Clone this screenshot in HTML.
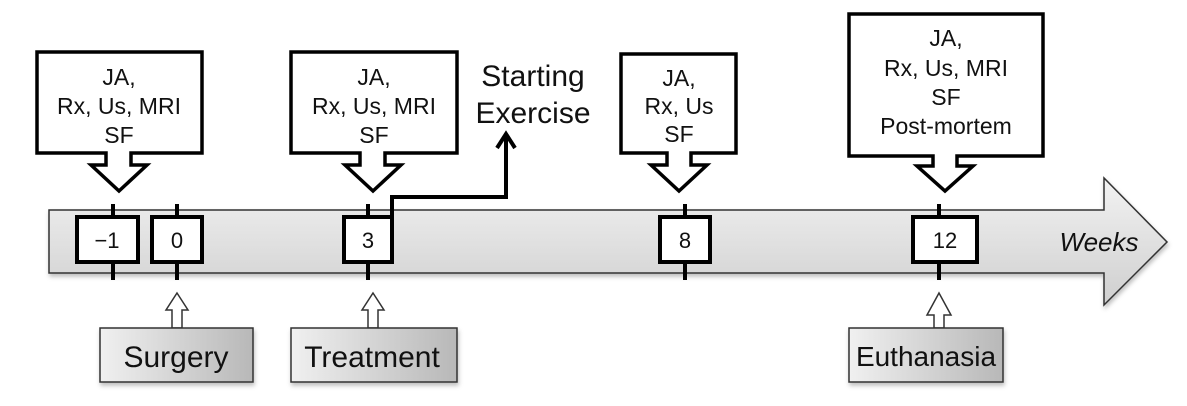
<!DOCTYPE html>
<html><head><meta charset="utf-8"><style>
html,body{margin:0;padding:0;background:#fff;}
svg{display:block;}
text{font-family:"Liberation Sans",Arial,sans-serif;fill:#111;}
</style></head><body>
<svg width="1187" height="406" viewBox="0 0 1187 406" xmlns="http://www.w3.org/2000/svg">
<defs>
<linearGradient id="bar" x1="0" y1="0" x2="0" y2="1">
<stop offset="0" stop-color="#f2f2f2"/><stop offset="1" stop-color="#cfcfcf"/>
</linearGradient>
<linearGradient id="lab" x1="0" y1="0" x2="1" y2="0">
<stop offset="0" stop-color="#f0f0f0"/><stop offset="1" stop-color="#b8b8b8"/>
</linearGradient>
<filter id="sh" x="-5%" y="-5%" width="115%" height="125%">
<feDropShadow dx="1" dy="3" stdDeviation="2" flood-color="#000" flood-opacity="0.25"/>
</filter>
</defs>

<polygon points="49,210 1104,210 1104,178 1167,242 1104,305 1104,273 49,273" fill="url(#bar)" stroke="#333" stroke-width="1.5" filter="url(#sh)"/>
<text x="1099" y="251" font-size="26" font-style="italic" text-anchor="middle">Weeks</text>

<g stroke="#000" stroke-width="4">
<line x1="113" y1="204" x2="113" y2="280"/>
<line x1="177" y1="204" x2="177" y2="280"/>
<line x1="368" y1="204" x2="368" y2="280"/>
<line x1="685" y1="204" x2="685" y2="280"/>
<line x1="939" y1="204" x2="939" y2="280"/>
</g>
<g fill="#fff" stroke="#000" stroke-width="4">
<rect x="77" y="217" width="61" height="45"/>
<rect x="152" y="217" width="50" height="45"/>
<rect x="344" y="217" width="48" height="45"/>
<rect x="660" y="217" width="50" height="45"/>
<rect x="913" y="217" width="64" height="45"/>
</g>
<g font-size="22" text-anchor="middle">
<text x="107" y="248">−1</text>
<text x="177" y="248">0</text>
<text x="368" y="248">3</text>
<text x="685" y="248">8</text>
<text x="945" y="248">12</text>
</g>

<g fill="#fff" stroke="#000" stroke-width="3.5" stroke-linejoin="miter">
<polygon points="37,52 202,52 202,153 131,153 131,165 147,165 119,191 91,165 106,165 106,153 37,153"/>
<polygon points="291,52 457,52 457,153 385,153 385,165 401,165 373,191 345,165 360,165 360,153 291,153"/>
<polygon points="621,54 736,54 736,153 691,153 691,165 707,165 679,191 651,165 667,165 667,153 621,153"/>
<polygon points="849,14 1043,14 1043,156 957,156 957,166 973,166 945,191 917,166 933,166 933,156 849,156"/>
</g>
<g font-size="23" text-anchor="middle">
<text x="119" y="85">JA,</text><text x="119" y="114">Rx, Us, MRI</text><text x="119" y="143">SF</text>
<text x="374" y="85">JA,</text><text x="374" y="114">Rx, Us, MRI</text><text x="374" y="143">SF</text>
<text x="679" y="86">JA,</text><text x="679" y="114">Rx, Us</text><text x="679" y="142">SF</text>
<text x="946" y="46">JA,</text><text x="946" y="76">Rx, Us, MRI</text><text x="946" y="105">SF</text><text x="946" y="134">Post-mortem</text>
</g>

<polyline points="392,245 392,197 506,197 506,134" fill="none" stroke="#000" stroke-width="4"/>
<polyline points="497,148 506,134 515,148" fill="none" stroke="#000" stroke-width="4"/>
<g font-size="30" text-anchor="middle">
<text x="533" y="86">Starting</text>
<text x="533" y="123">Exercise</text>
</g>

<g fill="#fff" stroke="#333" stroke-width="1.5">
<polygon points="177,293 188,310 182,310 182,328 172,328 172,310 166,310"/>
<polygon points="373,293 384,310 378,310 378,328 368,328 368,310 362,310"/>
<polygon points="939,293 951,315 944,315 944,328 934,328 934,315 927,315"/>
</g>
<g fill="url(#lab)" stroke="#333" stroke-width="1.5" filter="url(#sh)">
<rect x="100" y="328" width="153" height="54"/>
<rect x="291" y="328" width="166" height="54"/>
<rect x="849" y="328" width="154" height="54"/>
</g>
<g font-size="30" text-anchor="middle">
<text x="176" y="367">Surgery</text>
<text x="372" y="367">Treatment</text>
</g>
<text x="926" y="366" font-size="28" text-anchor="middle">Euthanasia</text>
</svg>
</body></html>
